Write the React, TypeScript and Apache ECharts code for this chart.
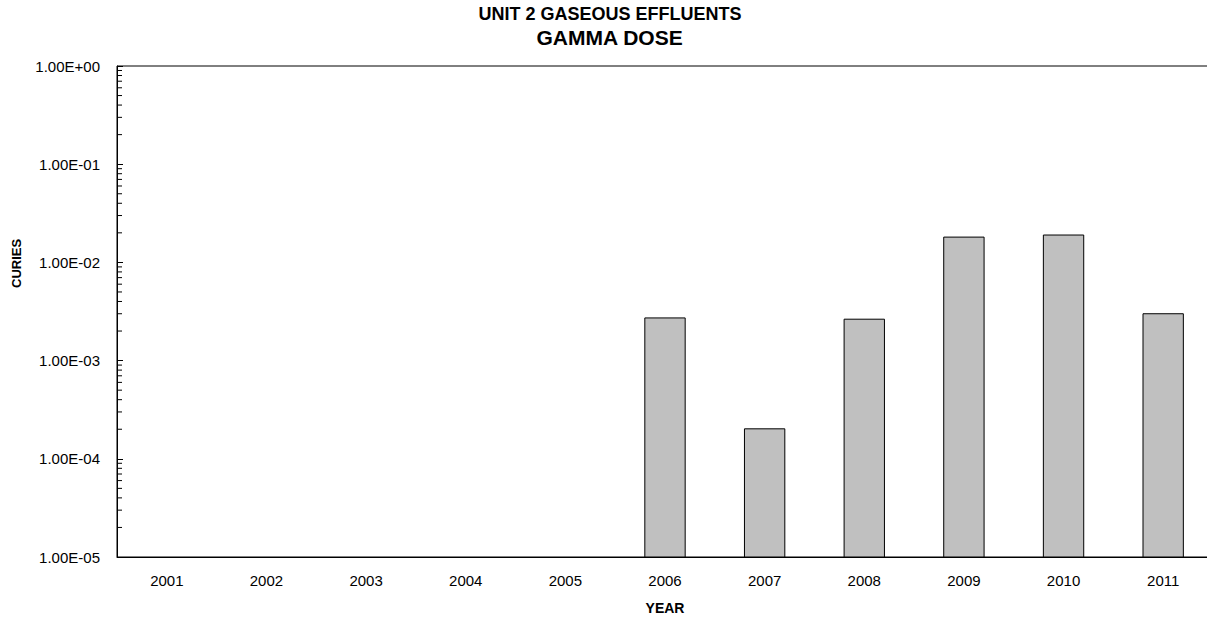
import React, { useEffect, useRef } from "react";
import * as echarts from "echarts";

const years = ["2001", "2002", "2003", "2004", "2005", "2006", "2007", "2008", "2009", "2010", "2011"];
const curies: (number | null)[] = [null, null, null, null, null, 2.72e-3, 2.02e-4, 2.64e-3, 1.81e-2, 1.9e-2, 3.0e-3];
const yTickLabels = ["1.00E-05", "1.00E-04", "1.00E-03", "1.00E-02", "1.00E-01", "1.00E+00"];
const decades = [1e-5, 1e-4, 1e-3, 1e-2, 1e-1];
const minorMultipliers = [2, 3, 4, 5, 6, 7, 8, 9];
const Y_MIN = 1e-5;
const Y_MAX = 1;

const FONT = "Liberation Sans, Arial, sans-serif";

export default function App() {
  const ref = useRef<HTMLDivElement>(null);
  useEffect(() => {
    if (!ref.current) return;
    const chart = echarts.init(ref.current, undefined, { renderer: "svg" });
    const minorData: number[][] = [];
    decades.forEach((d) => minorMultipliers.forEach((m) => minorData.push([0, d * m])));
    const barData = curies
      .map((v, i) => (v == null ? null : [i, v]))
      .filter((d) => d != null) as number[][];
    chart.setOption({
      animation: false,
      backgroundColor: "#fff",
      textStyle: { fontFamily: FONT },
      grid: {
        left: 117,
        top: 66,
        right: 7,
        bottom: 61,
        show: true,
        borderColor: "#000",
        borderWidth: 1,
        backgroundColor: "transparent",
      },
      graphic: [
        {
          type: "text",
          left: "center",
          top: 5,
          style: { text: "UNIT 2 GASEOUS EFFLUENTS", font: `bold 18px ${FONT}`, fill: "#000" },
        },
        {
          type: "text",
          left: "center",
          top: 27,
          style: { text: "GAMMA DOSE", font: `bold 21px ${FONT}`, fill: "#000" },
        },
        {
          type: "text",
          x: 10,
          y: 288,
          rotation: Math.PI / 2,
          style: { text: "CURIES", font: `bold 13px ${FONT}`, fill: "#000" },
        },
      ],
      xAxis: {
        type: "category",
        data: years,
        boundaryGap: true,
        axisLine: { show: true, lineStyle: { color: "#000", width: 1 } },
        axisTick: { show: false },
        axisLabel: { color: "#000", fontSize: 15, margin: 16, fontFamily: FONT },
        name: "YEAR",
        nameLocation: "middle",
        nameGap: 44,
        nameTextStyle: { color: "#000", fontSize: 14, fontWeight: "bold", fontFamily: FONT },
        splitLine: { show: false },
      },
      yAxis: {
        type: "log",
        logBase: 10,
        min: Y_MIN,
        max: Y_MAX,
        axisLine: { show: true, lineStyle: { color: "#000", width: 1 } },
        axisTick: { show: true, inside: true, length: 6, lineStyle: { color: "#000" } },
        axisLabel: {
          color: "#000",
          fontSize: 15,
          margin: 17,
          fontFamily: FONT,
          formatter: (v: number) => yTickLabels[Math.round(Math.log10(v)) + 5] ?? "",
        },
        splitLine: { show: false },
      },
      series: [
        {
          type: "custom",
          data: barData,
          renderItem: (params: any, api: any) => {
            const top = api.coord([api.value(0), api.value(1)]);
            const base = api.coord([api.value(0), Y_MIN]);
            const w = api.size([1, 0])[0] * 0.405;
            return {
              type: "rect",
              shape: { x: top[0] - w / 2, y: top[1], width: w, height: base[1] - top[1] },
              style: { fill: "#c0c0c0", stroke: "#000", lineWidth: 1 },
            };
          },
        },
        {
          type: "custom",
          silent: true,
          clip: false,
          data: minorData,
          renderItem: (params: any, api: any) => {
            const pt = api.coord([0, api.value(1)]);
            const x0 = params.coordSys.x;
            return {
              type: "line",
              shape: { x1: x0, y1: pt[1], x2: x0 + 5, y2: pt[1] },
              style: { stroke: "#000", lineWidth: 1 },
            };
          },
        },
      ],
    });
    return () => chart.dispose();
  }, []);
  return (
    <div style={{ position: "fixed", left: 0, top: 0, width: 1207, height: 620, overflow: "hidden" }}>
      <div ref={ref} style={{ width: 1220, height: 620 }} />
    </div>
  );
}
